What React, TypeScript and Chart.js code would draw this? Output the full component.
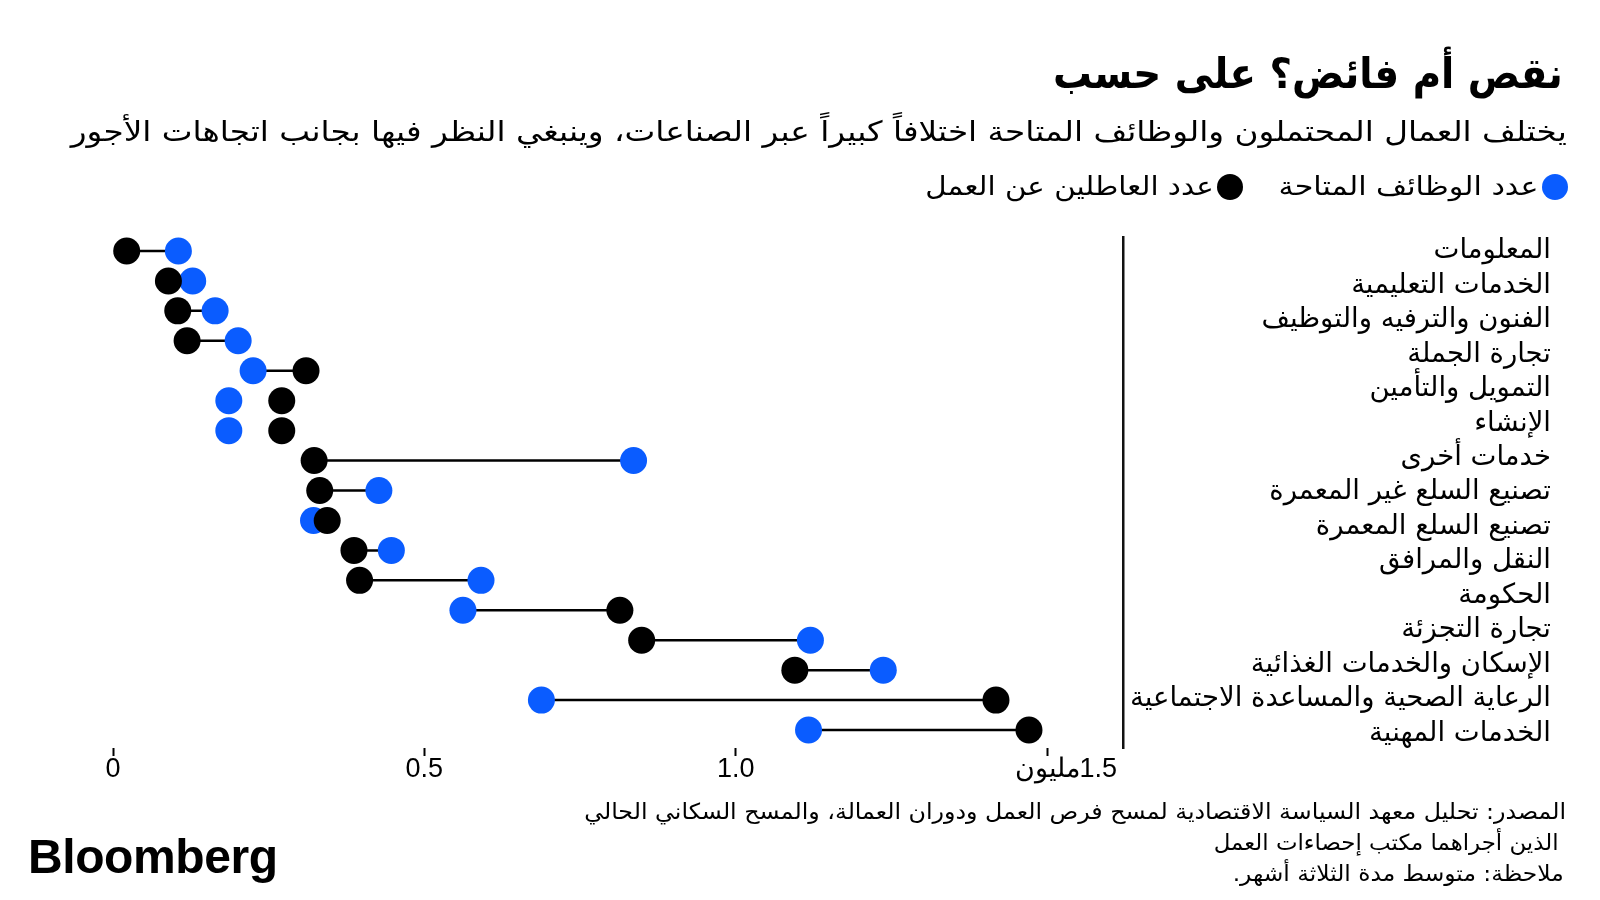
import React, { useEffect, useLayoutEffect, useRef } from 'react';
import { Chart, registerables } from 'chart.js';

Chart.register(...registerables);

// Industry labels shown on the right (top to bottom)
const industries = [
  'المعلومات',
  'الخدمات التعليمية',
  'الفنون والترفيه والتوظيف',
  'تجارة الجملة',
  'التمويل والتأمين',
  'الإنشاء',
  'خدمات أخرى',
  'تصنيع السلع غير المعمرة',
  'تصنيع السلع المعمرة',
  'النقل والمرافق',
  'الحكومة',
  'تجارة التجزئة',
  'الإسكان والخدمات الغذائية',
  'الرعاية الصحية والمساعدة الاجتماعية',
  'الخدمات المهنية',
];

// Dumbbell rows (top to bottom), values in millions
const unemployed = [0.022, 0.089, 0.104, 0.119, 0.310, 0.271, 0.271, 0.323, 0.332, 0.344, 0.387, 0.396, 0.814, 0.849, 1.095, 1.418, 1.471];
const openings = [0.105, 0.128, 0.164, 0.201, 0.225, 0.186, 0.186, 0.836, 0.427, 0.322, 0.447, 0.591, 0.562, 1.120, 1.237, 0.688, 1.117];
const connected = [true, true, true, true, true, false, false, true, true, true, true, true, true, true, true, true, true];

const xTickLabels = ['0', '0.5', '1.0', '1.5مليون     '];

const seriesNames = ['عدد الوظائف المتاحة', 'عدد العاطلين عن العمل'];
const title = 'نقص أم فائض؟ على حسب';
const subtitle = 'يختلف العمال المحتملون والوظائف المتاحة اختلافاً كبيراً عبر الصناعات، وينبغي النظر فيها بجانب اتجاهات الأجور';
const footerLines = [
  'المصدر: تحليل معهد السياسة الاقتصادية لمسح فرص العمل ودوران العمالة، والمسح السكاني الحالي',
  ' الذين أجراهما مكتب إحصاءات العمل',
  'ملاحظة: متوسط مدة الثلاثة أشهر.',
];

const BLUE = '#0A5CFF';
const BLACK = '#000000';
const AR_FONT = '"DejaVu Sans", sans-serif';
const AR_COND = '"DejaVu Sans Condensed", "DejaVu Sans", sans-serif';

function FitText(props: { text: string; right: number; top: number; width: number; style: React.CSSProperties }) {
  const ref = useRef<HTMLDivElement | null>(null);
  useLayoutEffect(() => {
    const el = ref.current;
    if (!el) return;
    el.style.transform = 'none';
    const w = el.getBoundingClientRect().width;
    if (w > 0) el.style.transform = `scaleX(${props.width / w})`;
  }, [props.text, props.width]);
  return (
    <div
      ref={ref}
      style={{
        position: 'absolute',
        right: props.right,
        top: props.top,
        direction: 'rtl',
        whiteSpace: 'pre',
        color: '#000',
        transformOrigin: 'right center',
        ...props.style,
      }}
    >
      {props.text}
    </div>
  );
}

function DumbbellChart() {
  const ref = useRef<HTMLCanvasElement | null>(null);

  useEffect(() => {
    const canvas = ref.current;
    if (!canvas) return;

    const connectorData: any[] = [];
    unemployed.forEach((u, i) => {
      if (connected[i]) {
        connectorData.push({ x: u, y: i });
        connectorData.push({ x: openings[i], y: i });
        connectorData.push({ x: null, y: null });
      }
    });

    const chart = new Chart(canvas, {
      type: 'scatter',
      data: {
        datasets: [
          {
            label: seriesNames[1],
            data: unemployed.map((v, i) => ({ x: v, y: i })),
            backgroundColor: BLACK,
            borderWidth: 0,
            pointRadius: 13.5,
            pointHoverRadius: 13.5,
            order: 0,
            clip: false,
          },
          {
            label: seriesNames[0],
            data: openings.map((v, i) => ({ x: v, y: i })),
            backgroundColor: BLUE,
            borderWidth: 0,
            pointRadius: 13.5,
            pointHoverRadius: 13.5,
            order: 1,
            clip: false,
          },
          {
            label: 'connector',
            data: connectorData,
            showLine: true,
            spanGaps: false,
            borderColor: BLACK,
            borderWidth: 2.5,
            pointRadius: 0,
            pointHoverRadius: 0,
            order: 2,
            clip: false,
          } as any,
        ],
      },
      options: {
        responsive: false,
        animation: false,
        devicePixelRatio: 1,
        layout: { padding: { left: 113, top: 237, right: 49, bottom: 112 } },
        plugins: {
          legend: { display: false },
          tooltip: { enabled: false },
          title: { display: false },
        },
        scales: {
          x: {
            type: 'linear',
            position: 'bottom',
            min: 0,
            max: 1.622,
            afterFit: (s: any) => { s.height = 40; },
            grid: {
              drawOnChartArea: false,
              drawTicks: true,
              tickLength: 8,
              tickWidth: 2,
              tickColor: BLACK,
            },
            border: { display: false },
            ticks: {
              stepSize: 0.5,
              includeBounds: false,
              autoSkip: false,
              maxRotation: 0,
              padding: 0,
              color: BLACK,
              font: { family: '"Liberation Sans", Arial, sans-serif', size: 27, lineHeight: 1 },
              callback: (v: any) => {
                const idx = Math.round(Number(v) / 0.5);
                return xTickLabels[idx] ?? '';
              },
            },
          },
          y: {
            type: 'linear',
            display: false,
            reverse: true,
            min: -0.467,
            max: 16.6,
          },
          yl: {
            type: 'linear',
            position: 'right',
            reverse: true,
            min: -0.41,
            max: 14.423,
            afterFit: (s: any) => { s.width = 428; },
            grid: { display: false, drawTicks: false },
            border: { display: true, color: '#111111', width: 2.5 },
            ticks: {
              stepSize: 1,
              includeBounds: false,
              autoSkip: false,
              crossAlign: 'far',
              padding: 0,
              color: BLACK,
              font: { family: AR_FONT, size: 27.5 },
              callback: (v: any) => industries[Math.round(Number(v))] ?? '',
            },
          },
        },
      } as any,
    });

    return () => chart.destroy();
  }, []);

  return (
    <canvas
      ref={ref}
      width={1600}
      height={900}
      style={{ position: 'absolute', left: 0, top: 0, width: 1600, height: 900, direction: 'rtl' }}
    />
  );
}

export default function App() {
  const dot = (color: string, cx: number, cy: number): React.CSSProperties => ({
    position: 'absolute',
    left: cx - 13,
    top: cy - 13,
    width: 26,
    height: 26,
    borderRadius: 13,
    background: color,
  });
  return (
    <div style={{ position: 'absolute', left: 0, top: 0, width: 1600, height: 900, background: '#fff', overflow: 'hidden' }}>
      <DumbbellChart />
      <FitText text={title} right={37} top={49} width={510}
        style={{ fontFamily: AR_COND, fontWeight: 'bold', fontSize: 42, lineHeight: '50px' }} />
      <FitText text={subtitle} right={33} top={115} width={1496}
        style={{ fontFamily: AR_FONT, fontSize: 28, lineHeight: '34px' }} />
      <div style={dot(BLUE, 1554.6, 187)} />
      <FitText text={seriesNames[0]} right={1600 - 1538.8} top={171} width={260}
        style={{ fontFamily: AR_FONT, fontSize: 26, lineHeight: '30px' }} />
      <div style={dot(BLACK, 1229.6, 187)} />
      <FitText text={seriesNames[1]} right={1600 - 1214} top={171} width={288.5}
        style={{ fontFamily: AR_FONT, fontSize: 26, lineHeight: '30px' }} />
      <FitText text={footerLines[0]} right={34} top={799} width={982}
        style={{ fontFamily: AR_COND, fontSize: 22, lineHeight: '26px' }} />
      <FitText text={footerLines[1]} right={34} top={830} width={352}
        style={{ fontFamily: AR_COND, fontSize: 22, lineHeight: '26px' }} />
      <FitText text={footerLines[2]} right={36} top={861} width={331}
        style={{ fontFamily: AR_COND, fontSize: 22, lineHeight: '26px' }} />
      <div style={{ position: 'absolute', left: 28, top: 829, fontFamily: '"Liberation Sans", Arial, sans-serif', fontWeight: 'bold', fontSize: 48, lineHeight: '56px', letterSpacing: '-0.4px', color: '#000' }}>Bloomberg</div>
    </div>
  );
}
